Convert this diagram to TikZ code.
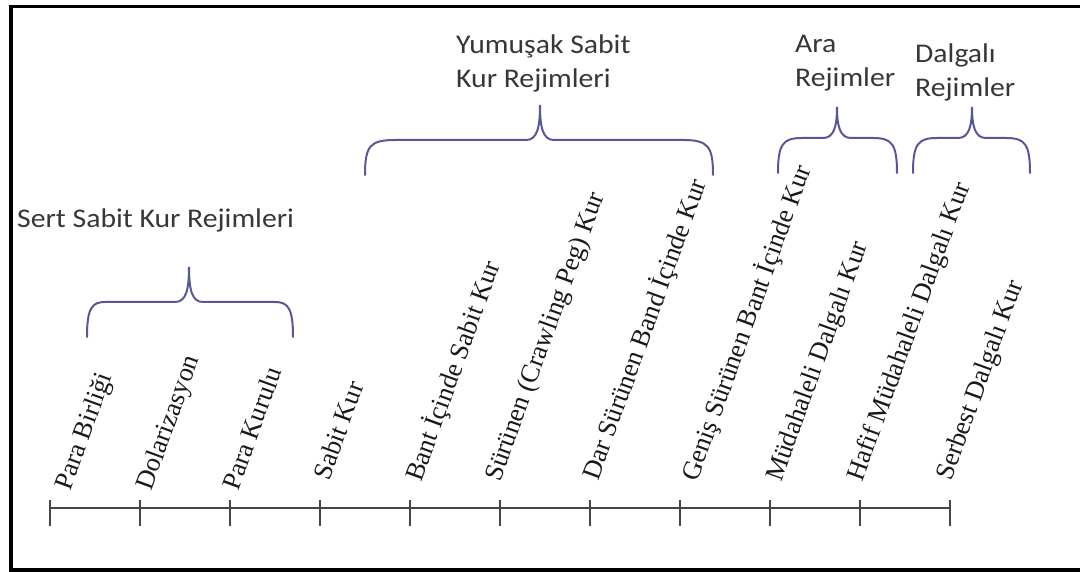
\documentclass[tikz,border=0pt]{standalone}
\usepackage{fontspec}
\setmainfont{Liberation Serif}
\newfontfamily\grpfont[FakeStretch=1.1]{Carlito}
\usetikzlibrary{positioning}

\definecolor{braceblue}{RGB}{88,88,150}
\definecolor{axisgray}{RGB}{70,70,70}
\definecolor{grpgray}{RGB}{55,55,55}

\tikzset{
  regime/.style={inner sep=0pt, anchor=base west, rotate=70,
    font=\fontsize{26.5}{30}\selectfont, text=black!90},
  grplabel/.style={inner sep=0pt, anchor=base west, align=left,
    font=\grpfont\fontsize{27}{34.5}\selectfont, text=grpgray},
  bracepath/.style={draw=braceblue, line width=2pt, line cap=round}
}

% left x, right x, tip x, end y, bar y, tip y, corner size
\newcommand{\regbrace}[7]{%
  \draw[bracepath] (#1,#4) .. controls (#1,#5+6) and (#1+5,#5) .. (#1+#7,#5)
    -- (#3-14,#5) .. controls (#3-3,#5) and (#3,#5-12) .. (#3,#6)
    .. controls (#3,#5-12) and (#3+3,#5) .. (#3+14,#5)
    -- (#2-#7,#5) .. controls (#2-5,#5) and (#2,#5+6) .. (#2,#4);}

\begin{document}
\begin{tikzpicture}[x=1pt, y=-1pt]

  %% ==== frame ====
  \draw[line width=3.5pt] (11,6.5) rectangle (1090,570);

  %% ==== axis and ticks ====
  \foreach \k in {0,...,10}
    \coordinate (tick\k) at (50+90*\k,508);
  \draw[axisgray, line width=2pt] (tick0) -- (tick10);
  \foreach \k in {0,...,10}
    \draw[axisgray, line width=2pt] ([yshift=8pt]tick\k) -- ([yshift=-18pt]tick\k);

  %% ==== regime labels (slanted) ====
  \foreach \k/\dx/\dy/\txt in {
      0/20/16/{Para Birliği},
      1/11/16/{Dolarizasyon},
      2/8/16/{Para Kurulu},
      3/9/26/{Sabit Kur},
      4/11/25/{Bant İçinde Sabit Kur},
      5/0/25/{Sürünen (Crawling Peg) Kur},
      6/8/26/{Dar Sürünen Band İçinde Kur},
      7/17/25/{Geniş Sürünen Bant İçinde Kur},
      8/11/25/{Müdahaleli Dalgalı Kur},
      9/2/25/{Hafif Müdahaleli Dalgalı Kur},
      10/1/26/{Serbest Dalgalı Kur}}
    \node[regime] (lab\k) at ([xshift=\dx pt, yshift=\dy pt]tick\k) {\txt};

  %% ==== braces ====
  \regbrace{87}{293}{189}{337}{302}{267}{18}
  \regbrace{365}{713}{540}{175}{140}{105}{30}
  \regbrace{778}{897}{837}{173}{138}{107}{24}
  \regbrace{913}{1030}{972}{173}{138}{107}{24}

  %% ==== group labels (anchored at last line) ====
  \node[grplabel] (grpSert) at (17,228) {Sert Sabit Kur Rejimleri};
  \node[grplabel] (grpYumusak) at (456,88) {Yumuşak Sabit\\Kur Rejimleri};
  \node[grplabel] (grpAra) at (795,87) {Ara\\Rejimler};
  \node[grplabel] (grpDalgali) at (915,97) {Dalgalı\\Rejimler};

  % fix the canvas
  \pgfresetboundingbox
  \path[use as bounding box] (0,0) rectangle (1080,572);
\end{tikzpicture}
\end{document}
